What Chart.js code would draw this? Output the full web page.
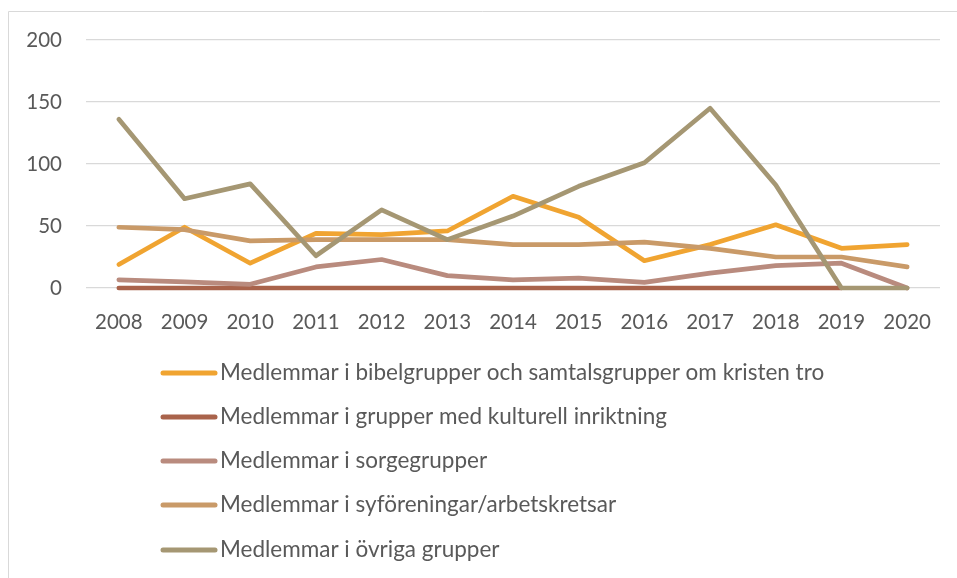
<!DOCTYPE html>
<html>
<head>
<meta charset="utf-8">
<script src="https://cdn.jsdelivr.net/npm/chart.js@4.4.1/dist/chart.umd.min.js"></script>
<style>
  html, body { margin: 0; padding: 0; background: #fff; }
  #wrap { position: relative; width: 957px; height: 578px; }
</style>
</head>
<body>
<div id="wrap"><canvas id="chart" width="957" height="578"></canvas></div>
<script>
// data
var years = ['2008','2009','2010','2011','2012','2013','2014','2015','2016','2017','2018','2019','2020'];
var bibelVal  = [19, 49, 20, 44, 43, 46, 74, 57, 22, 35, 51, 32, 35];
var kulturVal = [0, 0, 0, 0, 0, 0, 0, 0, 0, 0, 0, 0, null];
var sorgVal   = [6.5, 5, 3, 17, 23, 10, 6.5, 8, 4.5, 12, 18, 20, 0];
var syforVal  = [49, 47, 38, 39, 39, 39, 35, 35, 37, 32, 25, 25, 17];
var ovrigaVal = [136, 72, 84, 26, 63, 39, 58, 82, 101, 145, 83, 0, 0];
var yTicks = [0, 50, 100, 150, 200];

var seriesNames = [
  'Medlemmar i bibelgrupper och samtalsgrupper om kristen tro',
  'Medlemmar i grupper med kulturell inriktning',
  'Medlemmar i sorgegrupper',
  'Medlemmar i syföreningar/arbetskretsar',
  'Medlemmar i övriga grupper'
];
var seriesColors = ['#F0A431', '#A9634B', '#B98B7E', '#C99A68', '#A59773'];
var seriesVals = [bibelVal, kulturVal, sorgVal, syforVal, ovrigaVal];

var FONT = 'Lato, "Open Sans", sans-serif';
var TEXT = '#595959';

var datasets = [];
for (let i = 0; i < seriesVals.length; i++) {
  datasets.push({
    label: seriesNames[i],
    data: seriesVals[i],
    borderColor: seriesColors[i],
    backgroundColor: seriesColors[i],
    borderWidth: 4.7,
    borderCapStyle: 'round',
    borderJoinStyle: 'round',
    pointRadius: 0,
    tension: 0,
    fill: false,
    clip: false,
    order: seriesVals.length - i   // excel puts the last series on top
  });
}

// frame + vertical legend
var framePlugin = {
  id: 'frame',
  beforeDraw: function(chart) {
    var ctx = chart.ctx;
    ctx.save();
    ctx.strokeStyle = '#d9d9d9';
    ctx.lineWidth = 1;
    ctx.beginPath();
    ctx.moveTo(8.5, chart.height);
    ctx.lineTo(8.5, 11.5);
    ctx.lineTo(chart.width, 11.5);
    ctx.stroke();
    ctx.restore();
  },
  afterDraw: function(chart) {
    var ctx = chart.ctx;
    ctx.save();
    ctx.font = '22.5px ' + FONT;
    ctx.textBaseline = 'middle';
    ctx.textAlign = 'left';
    var rows = [373, 417, 461, 505, 550];
    chart.data.datasets.forEach(function(ds, i) {
      var y = rows[i];
      ctx.strokeStyle = ds.borderColor;
      ctx.lineWidth = 5;
      ctx.lineCap = 'round';
      ctx.beginPath();
      ctx.moveTo(163, y);
      ctx.lineTo(215, y);
      ctx.stroke();
      ctx.fillStyle = TEXT;
      ctx.fillText(ds.label, 220, y);
    });
    ctx.restore();
  }
};

var ctx = document.getElementById('chart');
var myChart = new Chart(ctx, {
  type: 'line',
  data: {
    labels: years,
    datasets: datasets
  },
  options: {
    responsive: false,
    animation: false,
    layout: {
      padding: { left: 0, top: 40, right: 17, bottom: 240 }
    },
    plugins: {
      legend: { display: false },
      tooltip: { enabled: false }
    },
    scales: {
      x: {
        offset: true,
        grid: { display: false },
        border: { display: false },
        ticks: {
          color: TEXT,
          font: { family: FONT, size: 20.5 },
          padding: 14,
          maxRotation: 0,
          autoSkip: false
        },
        afterFit: function(scale) { scale.height = 50; }
      },
      y: {
        min: 0,
        max: 200,
        afterBuildTicks: function(scale) {
          scale.ticks = yTicks.map(function(v) { return { value: v }; });
        },
        grid: { color: '#d9d9d9', lineWidth: 1.3, drawTicks: false },
        border: { display: false },
        ticks: {
          color: TEXT,
          font: { family: FONT, size: 20.5 },
          padding: 24
        },
        afterFit: function(scale) { scale.width = 86; }
      }
    }
  },
  plugins: [framePlugin]
});
</script>
</body>
</html>
